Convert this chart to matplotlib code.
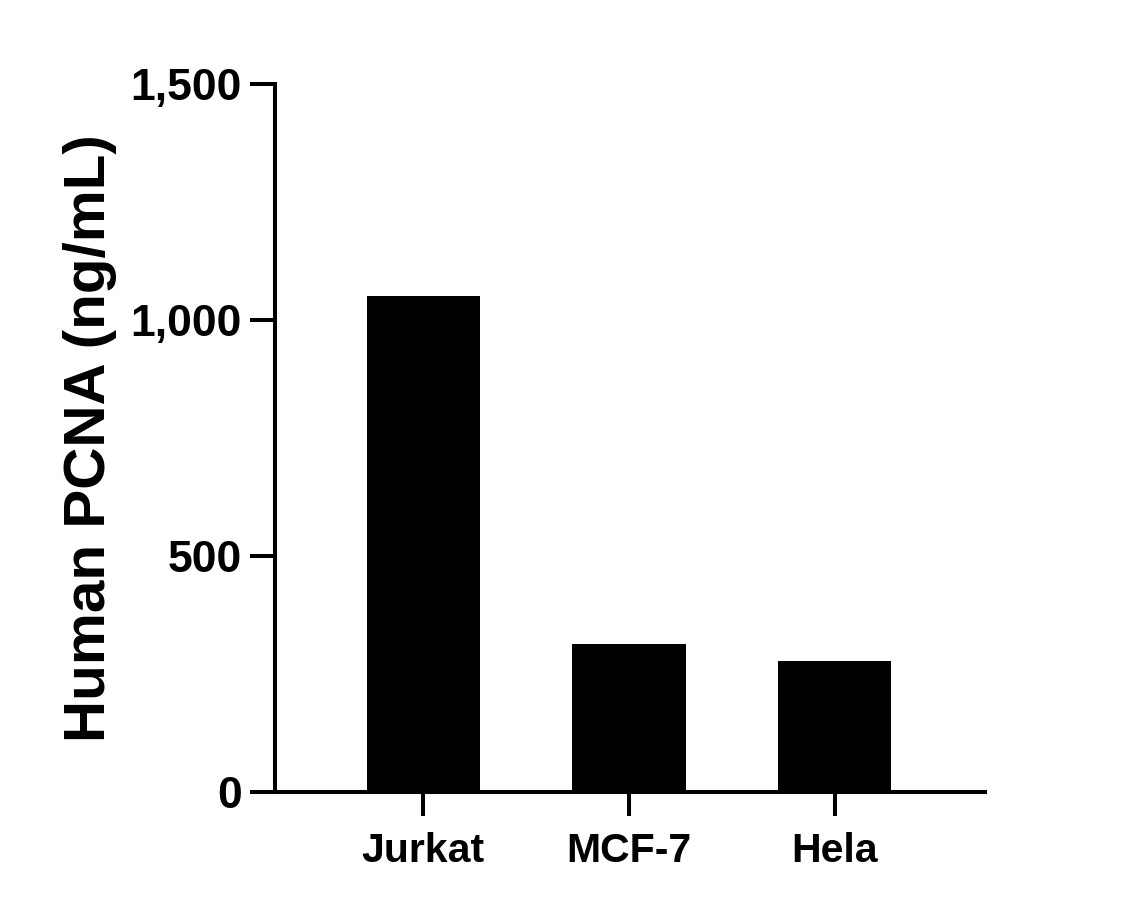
import matplotlib
matplotlib.use("Agg")
import matplotlib.pyplot as plt
from matplotlib.ticker import FuncFormatter

categories = ["Jurkat", "MCF-7", "Hela"]
values = [1050, 314, 278]
yticks = [0, 500, 1000, 1500]
ylabel = "Human PCNA (ng/mL)"

plt.rcParams['font.family'] = ['Liberation Sans', 'DejaVu Sans']
plt.rcParams['font.weight'] = 'bold'

fig = plt.figure(figsize=(11.21, 9.08), dpi=100)
W, H = 1121, 908
ax = fig.add_axes([275 / W, (H - 792) / H, (985 - 275) / W, (792 - 84) / H])

x = list(range(len(categories)))
ax.bar(x, values, width=0.55, color='black', edgecolor='none')
ax.set_xlim(-0.72, 2.73)
ax.set_ylim(0, 1500)
ax.set_yticks(yticks)
ax.yaxis.set_major_formatter(FuncFormatter(lambda v, p: f"{int(v):,}"))
ax.set_xticks(x)
ax.set_xticklabels(categories)

for s in ['top', 'right']:
    ax.spines[s].set_visible(False)
for s in ['left', 'bottom']:
    ax.spines[s].set_linewidth(2.9)
    ax.spines[s].set_capstyle('projecting')

ax.tick_params(axis='y', length=18, width=2.9, pad=6, labelsize=32)
ax.tick_params(axis='x', length=17, width=2.9, pad=12, labelsize=29.5)
for lab in ax.get_xticklabels() + ax.get_yticklabels():
    lab.set_fontweight('bold')

ax.set_ylabel(ylabel, fontsize=42, fontweight='bold')
ax.yaxis.set_label_coords(-0.222, 0.5)

fig.savefig("out.png", dpi=100)
